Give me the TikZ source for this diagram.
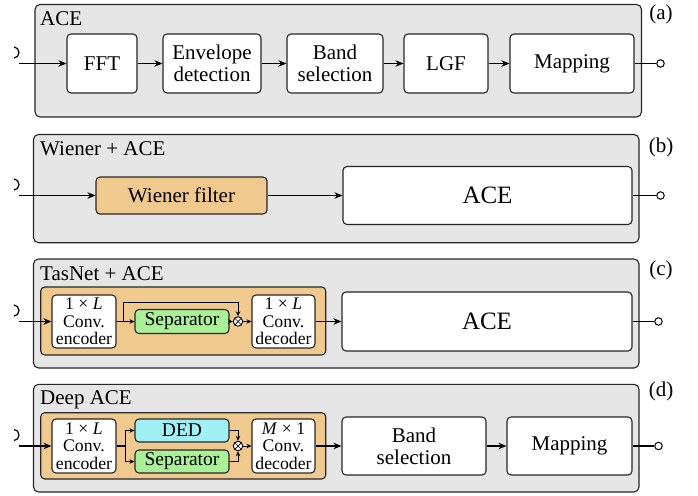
\documentclass[tikz,border=0pt]{standalone}
\usepackage{fontspec}
\setmainfont{Liberation Serif}
\usetikzlibrary{arrows.meta}
\definecolor{panelgray}{RGB}{230,230,230}
\definecolor{orangefill}{RGB}{240,201,143}
\definecolor{greenfill}{RGB}{170,240,150}
\definecolor{cyanfill}{RGB}{160,240,245}
\begin{document}
\begin{tikzpicture}[x=1pt,y=-1pt,
  panel/.style={draw=black!85,fill=panelgray,rounded corners=5pt,line width=1.1pt},
  inner/.style={draw=black!85,fill=orangefill,rounded corners=4pt,line width=1.1pt},
  blk/.style={draw=black!85,fill=white,rounded corners=4pt,line width=1.1pt,inner sep=0pt,align=center,font=\rmfamily\fontsize{21}{22}\selectfont},
  smallblk/.style={blk,font=\rmfamily\fontsize{17.7}{17.5}\selectfont},
  midblk/.style={blk,font=\rmfamily\fontsize{19.5}{20}\selectfont},
  bigblk/.style={blk,font=\rmfamily\fontsize{25}{26}\selectfont},
  title/.style={anchor=base west,inner sep=0pt,font=\rmfamily\fontsize{21}{22}\selectfont},
  tag/.style={inner sep=0pt,font=\rmfamily\fontsize{21}{22}\selectfont},
  arr/.style={line width=1.2pt,-{Stealth[length=8pt,width=6.5pt]}},
  sarr/.style={line width=1pt,-{Stealth[length=5pt,width=4.5pt]}},
  ln/.style={line width=1.2pt},
  outc/.style={circle,draw,fill=white,line width=1pt,minimum size=7.5pt,inner sep=0pt},
  mult/.style={circle,draw,fill=white,line width=0.9pt,minimum size=9.5pt,inner sep=0pt},
]
\useasboundingbox (0,0) rectangle (698,495);

% ---------- (a) ----------
\draw[panel] (35,4.5) rectangle (641.5,117);
\node[title] (ta) at (40,26) {ACE};
\node[tag] (la) at (661,14) {(a)};
\node[blk,minimum width=70pt,minimum height=59pt] (fft) at (102,63.5) {FFT};
\node[blk,minimum width=98pt,minimum height=59pt] (env) at (212,63.5) {Envelope\\detection};
\node[blk,minimum width=96pt,minimum height=59pt] (band) at (335,63.5) {Band\\selection};
\node[blk,minimum width=84pt,minimum height=59pt] (lgf) at (446,63.5) {LGF};
\node[blk,minimum width=124pt,minimum height=59pt] (map) at (572,63.5) {Mapping};
\coordinate (ina) at (19,63.5);
\draw[ln] (ina) ++(-5,-5.5) arc[start angle=-90,end angle=90,x radius=5,y radius=-5.5];
\draw[arr] (ina) -- (fft);
\draw[arr] (fft) -- (env);
\draw[arr] (env) -- (band);
\draw[arr] (band) -- (lgf);
\draw[arr] (lgf) -- (map);
\node[outc] (oa) at (660.5,63.5) {};
\draw[ln] (map) -- (oa);

% ---------- (b) ----------
\draw[panel] (33.5,134.5) rectangle (639,242.7);
\node[title] (tb) at (40,155) {Wiener + ACE};
\node[tag] (lb) at (661,147) {(b)};
\node[blk,fill=orangefill,minimum width=171pt,minimum height=37pt] (wf) at (181.5,195.5) {Wiener filter};
\node[bigblk,minimum width=289pt,minimum height=58pt] (aceb) at (487.5,195.5) {ACE};
\coordinate (inb) at (19,195.5);
\draw[ln] (inb) ++(-5,-5.5) arc[start angle=-90,end angle=90,x radius=5,y radius=-5.5];
\draw[arr] (inb) -- (wf);
\draw[arr] (wf) -- (aceb);
\node[outc] (ob) at (660.5,195.5) {};
\draw[ln] (aceb) -- (ob);

% ---------- (c) ----------
\draw[panel] (33.5,259) rectangle (639,368);
\node[title] (tc) at (40,280) {TasNet + ACE};
\node[tag] (lc) at (661,270) {(c)};
\draw[inner] (40.7,287) rectangle (325.7,355);
\node[smallblk,minimum width=64pt,minimum height=53pt] (encc) at (84,321.5) {1 × \textit{L}\\Conv.\\encoder};
\node[midblk,fill=greenfill,minimum width=94pt,minimum height=24pt] (sepc) at (182,321.5) {Separator};
\node[mult] (mc) at (238,321.5) {};
\draw[line width=0.7pt] (mc.north east) -- (mc.south west) (mc.north west) -- (mc.south east);
\node[smallblk,minimum width=63pt,minimum height=53pt] (decc) at (283.5,321.5) {1 × \textit{L}\\Conv.\\decoder};
\node[bigblk,minimum width=290pt,minimum height=59pt] (acec) at (487,321.5) {ACE};
\coordinate (inc) at (19,321.5);
\draw[ln] (inc) ++(-5,-5.5) arc[start angle=-90,end angle=90,x radius=5,y radius=-5.5];
\draw[arr] (inc) -- (encc);
\coordinate (brc) at (123,321.5);
\draw[sarr] (encc) -- (sepc);
\draw[sarr] (brc) -- (123,302.7) -- (238,302.7) -- (mc);
\draw[sarr] (sepc) -- (mc);
\draw[sarr] (mc) -- (decc);
\draw[arr] (decc) -- (acec);
\node[outc] (oc) at (658.5,321.5) {};
\draw[ln] (acec) -- (oc);

% ---------- (d) ----------
\draw[panel] (33.5,384.3) rectangle (639,492);
\node[title] (td) at (40,404) {Deep ACE};
\node[tag] (ld) at (661,391) {(d)};
\draw[inner] (40.7,412.7) rectangle (325.7,479);
\node[smallblk,minimum width=64pt,minimum height=54pt] (encd) at (84,446) {1 × \textit{L}\\Conv.\\encoder};
\node[midblk,fill=cyanfill,minimum width=94pt,minimum height=23pt] (ded) at (182,430.5) {DED};
\node[midblk,fill=greenfill,minimum width=94pt,minimum height=23pt] (sepd) at (182,461.5) {Separator};
\node[mult] (md) at (238,446) {};
\draw[line width=0.7pt] (md.north east) -- (md.south west) (md.north west) -- (md.south east);
\node[smallblk,minimum width=63pt,minimum height=54pt] (decd) at (283.5,446) {\textit{M} × 1\\Conv.\\decoder};
\node[blk,minimum width=144pt,minimum height=58pt] (bandd) at (414,446) {Band\\selection};
\node[blk,minimum width=125pt,minimum height=58pt] (mapd) at (569.5,446) {Mapping};
\coordinate (ind) at (19,446);
\draw[ln] (ind) ++(-5,-5.5) arc[start angle=-90,end angle=90,x radius=5,y radius=-5.5];
\draw[arr] (ind) -- (encd);
\coordinate (brd) at (125,446);
\draw[ln] (encd) -- (brd);
\draw[sarr] (brd) |- (ded);
\draw[sarr] (brd) |- (sepd);
\draw[sarr] (ded) -| (md);
\draw[sarr] (sepd) -| (md);
\draw[sarr] (md) -- (decd);
\draw[arr] (decd) -- (bandd);
\draw[arr] (bandd) -- (mapd);
\node[outc] (od) at (658.5,446) {};
\draw[ln] (mapd) -- (od);
\end{tikzpicture}
\end{document}
